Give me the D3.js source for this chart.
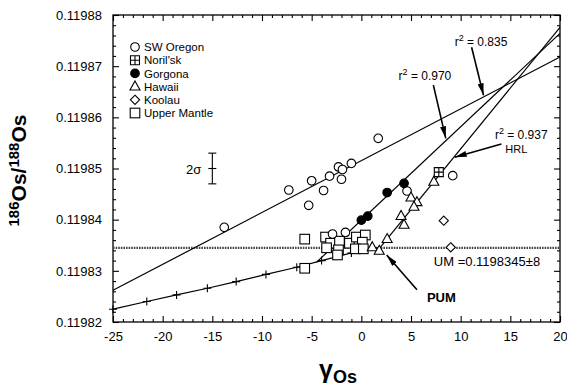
<!DOCTYPE html>
<html>
<head>
<meta charset="utf-8">
<script src="https://cdn.jsdelivr.net/npm/d3@7"></script>
<style>
  body { margin: 0; background: #fff; }
  svg text { font-family: "Liberation Sans", Arial, Helvetica, sans-serif; fill: #000; }
</style>
</head>
<body>
<div id="chart"></div>
<script>
// values: [gamma Os, 186Os/188Os]
const swOregon = [[-13.8, 0.1198385], [-7.3, 0.1198458], [-5.3, 0.1198428], [-5.0, 0.1198476],
  [-3.8, 0.1198457], [-3.2, 0.1198485], [-2.3, 0.1198503], [-1.9, 0.1198498], [-2.0, 0.1198479],
  [-1.0, 0.1198510], [1.7, 0.1198559], [-2.9, 0.1198372], [-1.6, 0.1198375], [4.6, 0.1198456],
  [9.2, 0.1198486]];
const norilsk = [[7.8, 0.1198493]];
const gorgona = [[0.0, 0.1198399], [0.65, 0.1198407], [2.6, 0.1198453], [4.3, 0.1198471]];
const hawaii = [[7.3, 0.1198474], [5.0, 0.1198443], [5.6, 0.1198434], [5.3, 0.1198425],
  [4.0, 0.1198407], [4.3, 0.1198390], [2.6, 0.1198362], [1.1, 0.1198346], [1.8, 0.1198339]];
const koolau = [[8.3, 0.1198398], [9.0, 0.1198346]];
const upperMantle = [[-5.7, 0.1198362], [-3.6, 0.1198366], [-3.1, 0.1198354], [-2.2, 0.1198358],
  [-1.2, 0.1198354], [-0.5, 0.1198366], [0.4, 0.1198370], [0.1, 0.1198356], [-3.5, 0.1198345],
  [-2.3, 0.1198341], [-2.4, 0.1198331], [-0.6, 0.1198343], [0.2, 0.1198343], [-5.7, 0.1198305]];

// evolution curve (+ marks) ending at PUM
const growthCurve = [[-25, 0.1198225], [-21.6, 0.1198240], [-18.6, 0.1198253], [-15.5, 0.1198266],
  [-12.6, 0.1198279], [-9.6, 0.1198293], [-6.5, 0.1198307], [-4.0, 0.1198320], [-1.0, 0.1198335],
  [1.9, 0.1198346]];

// fitted lines, end points
const oregonFit = [[-25, 0.1198262], [20, 0.1198718]];
const gorgonaFit = [[-4.5, 0.1198317], [20, 0.1198764]];
const hrlFit = [[1.9, 0.1198346], [20, 0.1198776]];
const umValue = 0.1198345;
const twoSigma = [-15, 0.11985, 0.000003];

const xTicks = [-25, -20, -15, -10, -5, 0, 5, 10, 15, 20];
const yTicks = [0.11982, 0.11983, 0.11984, 0.11985, 0.11986, 0.11987, 0.11988];
const legendNames = ['SW Oregon', "Noril'sk", 'Gorgona', 'Hawaii', 'Koolau', 'Upper Mantle'];
const legendTypes = ['circle', 'norilsk', 'dot', 'triangle', 'diamond', 'square'];

const W = 567, H = 386;
const plot = { left: 113, right: 560, top: 15, bottom: 322 };

const svg = d3.select('#chart').append('svg').attr('width', W).attr('height', H);

const x = d3.scaleLinear().domain([-25, 20]).range([plot.left, plot.right]);
const y = d3.scaleLinear().domain([0.11982, 0.11988]).range([plot.bottom, plot.top]);

// minor tick values
const xMinor = d3.range(-25, 21, 1).filter(v => v % 5 !== 0);
const yMinor = d3.range(0, 31).map(i => 0.11982 + i * 0.000002).filter((v, i) => i % 5 !== 0);

function tickAxis(axis, ticks, size, labels, pad) {
  return axis.tickValues(ticks).tickSizeInner(-size).tickSizeOuter(0).tickPadding(pad)
    .tickFormat(labels ? labels : () => '');
}

// bottom
svg.append('g').attr('transform', `translate(0,${plot.bottom})`)
  .call(tickAxis(d3.axisBottom(x), xTicks, 6, d => d, 10));
svg.append('g').attr('transform', `translate(0,${plot.bottom})`)
  .call(tickAxis(d3.axisBottom(x), xMinor, 3, null, 0));
// top
svg.append('g').attr('transform', `translate(0,${plot.top})`)
  .call(tickAxis(d3.axisTop(x), xTicks, 6, null, 0));
svg.append('g').attr('transform', `translate(0,${plot.top})`)
  .call(tickAxis(d3.axisTop(x), xMinor, 3, null, 0));
// left
svg.append('g').attr('transform', `translate(${plot.left},0)`)
  .call(tickAxis(d3.axisLeft(y), yTicks, 6, d3.format('.5f'), 11));
svg.append('g').attr('transform', `translate(${plot.left},0)`)
  .call(tickAxis(d3.axisLeft(y), yMinor, 3, null, 0));
// right
svg.append('g').attr('transform', `translate(${plot.right},0)`)
  .call(tickAxis(d3.axisRight(y), yTicks, 6, null, 0));
svg.append('g').attr('transform', `translate(${plot.right},0)`)
  .call(tickAxis(d3.axisRight(y), yMinor, 3, null, 0));

svg.selectAll('.domain').remove();
svg.selectAll('.tick line').attr('stroke', '#000').attr('stroke-width', 1.1);
svg.selectAll('.tick text').style('font-size', '13px');

svg.append('rect')
  .attr('x', plot.left).attr('y', plot.top)
  .attr('width', plot.right - plot.left).attr('height', plot.bottom - plot.top)
  .attr('fill', 'none').attr('stroke', '#000').attr('stroke-width', 1.3);

// axis titles
const yTitle = svg.append('text')
  .attr('transform', `translate(26,${(plot.top + plot.bottom) / 2 + 2}) rotate(-90)`)
  .attr('text-anchor', 'middle')
  .style('font-size', '21px').style('font-weight', 'bold');
yTitle.append('tspan').text('186').style('font-size', '15px').attr('dy', '-7');
yTitle.append('tspan').text('Os/').attr('dy', '7');
yTitle.append('tspan').text('188').style('font-size', '15px').attr('dy', '-7');
yTitle.append('tspan').text('Os').attr('dy', '7');

const xTitle = svg.append('text')
  .attr('x', 338).attr('y', 378)
  .attr('text-anchor', 'middle').style('font-weight', 'bold');
xTitle.append('tspan').text('γ').style('font-size', '25px');
xTitle.append('tspan').text('Os').style('font-size', '18px').attr('dy', '5');

// lines
const line = d3.line().x(d => x(d[0])).y(d => y(d[1]));
const lines = svg.append('g').attr('fill', 'none').attr('stroke', '#000').attr('stroke-width', 1.2);

lines.append('line')
  .attr('x1', x(-25)).attr('x2', x(20)).attr('y1', y(umValue)).attr('y2', y(umValue))
  .attr('stroke', '#444').attr('stroke-width', 2.2).attr('stroke-dasharray', '1.6,1');

[oregonFit, gorgonaFit, hrlFit, growthCurve].forEach(d => {
  lines.append('path').attr('d', line(d));
});

// + marks on the evolution curve
svg.append('g').selectAll('path')
  .data(growthCurve.slice(0, -1))
  .join('path')
  .attr('transform', d => `translate(${x(d[0])},${y(d[1])})`)
  .attr('d', 'M-4,0H4M0,-4V4')
  .attr('stroke', '#000').attr('stroke-width', 1.1);

// symbols
function drawSymbol(sel, type) {
  let p;
  if (type === 'circle' || type === 'dot') {
    p = sel.append('circle').attr('r', 4.3)
      .attr('fill', type === 'dot' ? '#000' : '#fff');
  } else if (type === 'square') {
    p = sel.append('rect').attr('x', -4.8).attr('y', -4.8).attr('width', 9.6).attr('height', 9.6)
      .attr('fill', '#fff');
  } else if (type === 'norilsk') {
    p = sel.append('path').attr('d', 'M-4.5,-4.5H4.5V4.5H-4.5Z M-4.5,0H4.5 M0,-4.5V4.5')
      .attr('fill', '#fff');
  } else if (type === 'triangle') {
    p = sel.append('path').attr('d', 'M0,-5.6L5,3.4H-5Z').attr('fill', '#fff');
  } else if (type === 'diamond') {
    p = sel.append('path').attr('d', 'M0,-4.6L4.6,0L0,4.6L-4.6,0Z').attr('fill', '#fff');
  }
  p.attr('stroke', '#000').attr('stroke-width', 1.1);
}

const groups = [
  [upperMantle, 'square'], [swOregon, 'circle'], [gorgona, 'dot'],
  [hawaii, 'triangle'], [koolau, 'diamond'], [norilsk, 'norilsk']
];
groups.forEach(([data, type]) => {
  svg.append('g').selectAll('g')
    .data(data)
    .join('g')
    .attr('transform', d => `translate(${x(d[0])},${y(d[1])})`)
    .each(function () { drawSymbol(d3.select(this), type); });
});

// 2 sigma error bar
const eb = svg.append('g').attr('stroke', '#000').attr('stroke-width', 1.1);
const ebx = x(twoSigma[0]);
eb.append('line').attr('x1', ebx).attr('x2', ebx)
  .attr('y1', y(twoSigma[1] - twoSigma[2])).attr('y2', y(twoSigma[1] + twoSigma[2]));
[twoSigma[1] - twoSigma[2], twoSigma[1], twoSigma[1] + twoSigma[2]].forEach(v => {
  eb.append('line').attr('x1', ebx - 4).attr('x2', ebx + 4).attr('y1', y(v)).attr('y2', y(v));
});
svg.append('text').attr('x', ebx - 11).attr('y', y(twoSigma[1]) + 5)
  .attr('text-anchor', 'end').style('font-size', '13px').text('2σ');

// legend
const legend = svg.append('g').attr('transform', `translate(${plot.left + 22},47)`);
legendNames.forEach((name, i) => {
  const row = legend.append('g').attr('transform', `translate(0,${i * 13.2})`);
  drawSymbol(row.append('g'), legendTypes[i]);
  row.append('text').attr('x', 9).attr('y', 4.2).style('font-size', '11.5px').text(name);
});

// annotations
const defs = svg.append('defs');
defs.append('marker').attr('id', 'arrow')
  .attr('viewBox', '0 0 12 6').attr('refX', 12).attr('refY', 3)
  .attr('markerWidth', 12).attr('markerHeight', 6).attr('markerUnits', 'userSpaceOnUse')
  .attr('orient', 'auto')
  .append('path').attr('d', 'M0,0L12,3L0,6Z').attr('fill', '#000');

function arrow(a, b) {
  svg.append('line')
    .attr('x1', x(a[0])).attr('y1', y(a[1])).attr('x2', x(b[0])).attr('y2', y(b[1]))
    .attr('stroke', '#000').attr('stroke-width', 1.6).attr('marker-end', 'url(#arrow)');
}
function rLabel(px, py, val, size) {
  const t = svg.append('text').attr('x', x(px)).attr('y', y(py)).attr('text-anchor', 'middle')
    .style('font-size', size + 'px');
  t.append('tspan').text('r');
  t.append('tspan').text('2').attr('dy', -5).style('font-size', (size - 3) + 'px');
  t.append('tspan').text(' = ' + val).attr('dy', 5);
}

rLabel(12.05, 0.1198740, '0.835', 12);
arrow([11.1, 0.1198737], [12.3, 0.1198643]);

rLabel(6.4, 0.1198672, '0.970', 12);
arrow([7.25, 0.1198663], [8.5, 0.1198559]);

rLabel(16.1, 0.1198558, '0.937', 12);
svg.append('text').attr('x', x(15.6)).attr('y', y(0.1198539) + 4)
  .attr('text-anchor', 'middle').style('font-size', '11px').text('HRL');
arrow([14.1, 0.1198548], [9.4, 0.1198522]);

svg.append('text').attr('x', x(7.3)).attr('y', y(0.1198320) + 5)
  .style('font-size', '13px').text('UM  =0.1198345±8');

svg.append('text').attr('x', x(6.6)).attr('y', y(0.1198249) + 5)
  .style('font-size', '13px').style('font-weight', 'bold').text('PUM');
arrow([5.6, 0.1198263], [2.55, 0.1198331]);
</script>
</body>
</html>
